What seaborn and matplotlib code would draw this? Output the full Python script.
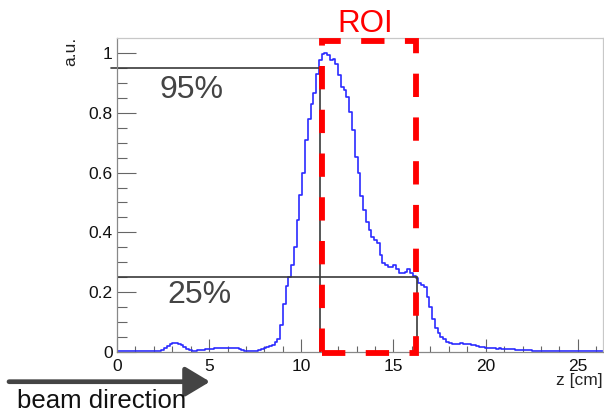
import numpy as np
import pandas as pd
import matplotlib
matplotlib.use("Agg")
import matplotlib.pyplot as plt
from matplotlib.patches import Rectangle
from matplotlib.ticker import MultipleLocator, FormatStrFormatter
import seaborn as sns

# ------------------------------------------------------------
# data (histogram, 0.15 cm bins from 0 to 26.4 cm)
# ------------------------------------------------------------
bin_width = 0.15
counts = [
    0.002, 0.002, 0.002, 0.002, 0.002, 0.002,
    0.003, 0.004, 0.004, 0.004, 0.004, 0.004, 0.004, 0.004, 0.005, 0.005,
    0.008, 0.014, 0.020, 0.026, 0.029, 0.030, 0.027, 0.022, 0.016, 0.010,
    0.006, 0.005, 0.005, 0.006, 0.007, 0.008, 0.009, 0.010, 0.011, 0.013,
    0.014, 0.015, 0.014, 0.015, 0.014, 0.015, 0.014, 0.013, 0.011, 0.008,
    0.005, 0.004, 0.004, 0.004, 0.005, 0.007, 0.009, 0.012, 0.016, 0.020,
    0.025, 0.035, 0.045, 0.090, 0.160, 0.220, 0.250, 0.290, 0.350, 0.440,
    0.525, 0.600, 0.710, 0.780, 0.830, 0.867, 0.930, 0.975, 0.995, 1.000,
    0.993, 0.975, 0.979, 0.963, 0.926, 0.887, 0.876, 0.854, 0.804, 0.742,
    0.653, 0.598, 0.520, 0.475, 0.436, 0.408, 0.386, 0.375, 0.364, 0.324,
    0.299, 0.291, 0.285, 0.283, 0.290, 0.277, 0.263, 0.263, 0.268, 0.277,
    0.263, 0.255, 0.246, 0.230, 0.225, 0.217, 0.185, 0.152, 0.110, 0.080,
    0.062, 0.050, 0.042, 0.035, 0.030, 0.028, 0.027, 0.028, 0.029, 0.027,
    0.026, 0.027, 0.025, 0.023, 0.021, 0.018, 0.016, 0.014, 0.013, 0.012,
    0.012, 0.011, 0.012, 0.011, 0.010, 0.011, 0.010, 0.009, 0.008, 0.008,
    0.007, 0.007, 0.006, 0.006, 0.005, 0.005, 0.005, 0.004, 0.004, 0.004,
    0.004, 0.003, 0.003, 0.003, 0.003, 0.003, 0.002, 0.002, 0.002, 0.002,
    0.002, 0.002, 0.002, 0.002, 0.002, 0.002, 0.002, 0.002, 0.002, 0.002,
]

levels = [0.95, 0.25]          # threshold levels
level_labels = ["95%", "25%"]
level_z = [11.0, 16.25]        # where the curve crosses each level
roi_z = [11.1, 16.2]           # ROI box edges in z
roi_y = [-0.004, 1.04]

z_hi = len(counts) * bin_width
centers = np.arange(len(counts)) * bin_width + bin_width / 2
df = pd.DataFrame({"z": centers, "w": counts})

# ------------------------------------------------------------
# plot
# ------------------------------------------------------------
sns.set_theme(style="ticks")
plt.rcParams["font.family"] = ["Liberation Sans", "DejaVu Sans"]

fig = plt.figure(figsize=(6.04, 4.13), dpi=100)
ax = fig.add_axes([117 / 604, 1 - 352 / 413, (602.7 - 117) / 604, (352 - 38.3) / 413])

sns.histplot(data=df, x="z", weights="w", binwidth=bin_width, binrange=(0, z_hi),
             element="step", fill=False, color="#2b2bff", linewidth=1.2, ax=ax)

ax.set_xlim(0, 26.35)
ax.set_ylim(0, 1.049)

# threshold lines
line_col = "#3a3a3a"
ax.plot([-0.35, level_z[0]], [levels[0], levels[0]], color=line_col, lw=1.2, clip_on=False)
ax.plot([level_z[0], level_z[0]], [levels[0], 0], color=line_col, lw=1.2)
ax.plot([0, level_z[1]], [levels[1], levels[1]], color=line_col, lw=1.2)
ax.plot([level_z[1], level_z[1]], [levels[1], 0], color=line_col, lw=1.2)

ax.text(2.33, 0.85, level_labels[0], fontsize=23, color="#444444", va="baseline")
ax.text(2.71, 0.164, level_labels[1], fontsize=23, color="#444444", va="baseline")

# ROI box
roi = Rectangle((roi_z[0], roi_y[0]), roi_z[1] - roi_z[0], roi_y[1] - roi_y[0],
                fill=False, edgecolor="#ff0000", lw=4.2, linestyle=(0, (4, 3.5)),
                clip_on=False, zorder=5)
ax.add_patch(roi)
ax.text(11.98, 1.07, "ROI", fontsize=22.5, color="#ff0000", va="baseline", clip_on=False)

# axes styling (ROOT-like)
ax.xaxis.set_major_locator(MultipleLocator(5))
ax.xaxis.set_minor_locator(MultipleLocator(1))
ax.yaxis.set_major_locator(MultipleLocator(0.2))
ax.yaxis.set_minor_locator(MultipleLocator(0.05))
ax.yaxis.set_major_formatter(FormatStrFormatter("%g"))
ax.xaxis.set_major_formatter(FormatStrFormatter("%g"))
ax.tick_params(axis="both", which="both", direction="in", color="#666666",
               width=0.8, labelsize=12.5, labelcolor="#111111")
ax.tick_params(axis="y", which="major", length=14, pad=3)
ax.tick_params(axis="y", which="minor", length=7)
ax.tick_params(axis="x", which="major", length=9.5, pad=5)
ax.tick_params(axis="x", which="minor", length=4.5)
for side in ["left", "bottom"]:
    ax.spines[side].set_color("#888888")
    ax.spines[side].set_linewidth(0.9)
for side in ["top", "right"]:
    ax.spines[side].set_visible(True)
    ax.spines[side].set_color("#c8c8c8")
    ax.spines[side].set_linewidth(0.9)

ax.set_ylabel("")
ax.set_xlabel("")
fig.text(71 / 604, 1 - 37 / 413, "a.u.", rotation=90, fontsize=12.5,
         color="#222222", ha="center", va="top")
fig.text(603 / 604, 1 - 373 / 413, "z [cm]", fontsize=12.5, color="#222222",
         ha="right", va="top")

# beam direction arrow
ax.annotate("", xy=(210, 413 - 381.7), xytext=(9, 413 - 381.7),
            xycoords="figure pixels", textcoords="figure pixels",
            arrowprops=dict(arrowstyle="-|>,head_length=1.5,head_width=0.9",
                            mutation_scale=10, lw=3.4, color="#444444",
                            shrinkA=0, shrinkB=0))
fig.text(17 / 604, 0.5 / 413, "beam direction", fontsize=18.5, color="#111111",
         va="bottom", ha="left")

plt.savefig("out.png", dpi=100)
